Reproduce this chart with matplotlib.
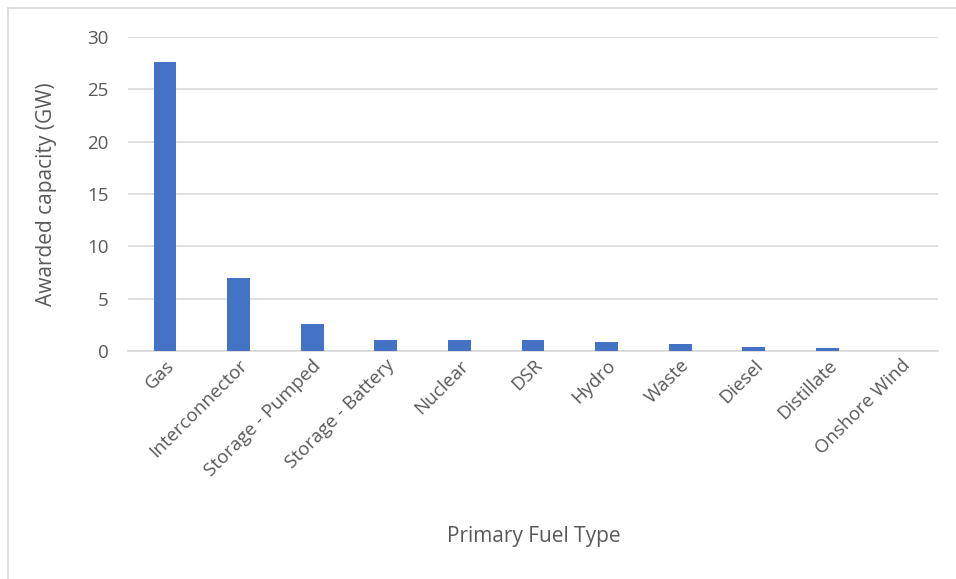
import matplotlib
matplotlib.use("Agg")
import matplotlib.pyplot as plt
from matplotlib.lines import Line2D

# awarded capacity by primary fuel type (GW)
fuel_types = ["Gas", "Interconnector", "Storage - Pumped", "Storage - Battery",
              "Nuclear", "DSR", "Hydro", "Waste", "Diesel", "Distillate",
              "Onshore Wind"]
capacity_gw = [27.6, 6.97, 2.55, 1.05, 1.02, 1.0, 0.83, 0.64, 0.38, 0.29, 0.02]

plt.rcParams['font.family'] = ['Open Sans', 'DejaVu Sans']

fig = plt.figure(figsize=(9.56, 5.79), dpi=100)
ax = fig.add_axes([0.134, 0.394, 0.847, 0.542])

x = range(len(fuel_types))
ax.bar(x, capacity_gw, width=0.31, color="#4472c4", zorder=3)

ax.set_xlim(-0.5, len(fuel_types) - 0.5)
ax.set_ylim(0, 30)
ax.set_yticks(range(0, 31, 5))
ax.yaxis.grid(True, color="#d9d9d9", linewidth=1.2, zorder=0)
ax.set_axisbelow(True)

for side in ["top", "right", "left"]:
    ax.spines[side].set_visible(False)
ax.spines["bottom"].set_color("#d9d9d9")
ax.spines["bottom"].set_linewidth(1.2)

ax.set_xticks(list(x))
ax.set_xticklabels(fuel_types, rotation=45, ha="right", rotation_mode="anchor",
                   fontsize=13.5, color="#595959")
ax.tick_params(axis="both", length=0, labelsize=13.5, labelcolor="#595959")
ax.tick_params(axis="x", pad=4)
ax.tick_params(axis="y", pad=14)

ax.set_ylabel("Awarded capacity (GW)", fontsize=15, color="#595959", labelpad=22)
fig.text(0.558, 0.073, "Primary Fuel Type", ha="center", va="center",
         fontsize=15, color="#595959")

# chart area frame (left and top edges)
fig.add_artist(Line2D([8 / 956, 8 / 956], [0, 1 - 8 / 579], transform=fig.transFigure,
                      color="#d9d9d9", linewidth=1.2))
fig.add_artist(Line2D([8 / 956, 1], [1 - 8 / 579, 1 - 8 / 579], transform=fig.transFigure,
                      color="#d9d9d9", linewidth=1.2))

fig.savefig("out.png", dpi=100, facecolor="white")
